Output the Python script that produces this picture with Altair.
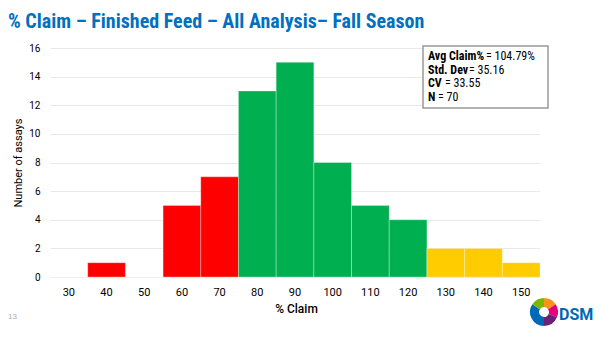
import altair as alt
import pandas as pd

# ---- data ----
bins = [30, 40, 50, 60, 70, 80, 90, 100, 110, 120, 130, 140, 150]
counts = [0, 1, 0, 5, 7, 13, 15, 8, 5, 4, 2, 2, 1]
zones = ["low"] * 5 + ["ok"] * 5 + ["high"] * 3
stat_labels = ["Avg Claim%", "Std. Dev", "CV", "N"]
stat_values = ["= 104.79%", "= 35.16", "= 33.55", "= 70"]
title_text = "% Claim – Finished Feed – All Analysis– Fall Season"

df = pd.DataFrame({"bin": bins, "count": counts, "zone": zones})

# ---- styles ----
W, H = 490, 229
NARROW = "Liberation Sans Narrow, Roboto Condensed, Roboto"
value_dx = [58, 41, 17, 10]
stats = pd.DataFrame({
    "label": stat_labels,
    "value": stat_values,
    "line": list(range(len(stat_labels))),
    "dx": value_dx,
})
one = pd.DataFrame({"a": [0]})
line_y = alt.Y("line:Q", scale=alt.Scale(domain=[0, 3], range=[12, 53]), axis=None)

bars = alt.Chart(df).mark_bar(stroke="#ffffff", strokeOpacity=0.5, strokeWidth=0.6).encode(
    x=alt.X("bin:O", sort=bins,
            scale=alt.Scale(paddingInner=0, paddingOuter=0),
            axis=alt.Axis(title="% Claim", labelAngle=0, ticks=False, domain=False,
                          labelFontSize=11, labelPadding=9, labelColor="#000",
                          titleFontSize=12, titleFontWeight=500, titlePadding=6,
                          titleColor="#000", titleX=246)),
    y=alt.Y("count:Q", scale=alt.Scale(domain=[0, 16], nice=False),
            axis=alt.Axis(title="Number of assays", values=list(range(0, 17, 2)),
                          ticks=False, domain=False, gridColor="#e8e8e8",
                          labelFontSize=10, labelPadding=10, labelColor="#000",
                          titleFontSize=11, titleFontWeight="normal", titlePadding=5,
                          titleColor="#000")),
    color=alt.Color("zone:N", legend=None,
                    scale=alt.Scale(domain=["low", "ok", "high"],
                                    range=["#ff0000", "#00b050", "#ffcc00"])),
)

box = alt.Chart(one).mark_rect(fill="white", stroke="#999999", strokeWidth=1.5).encode(
    x=alt.value(373), x2=alt.value(498), y=alt.value(-2), y2=alt.value(60)
)

lab = alt.Chart(stats).mark_text(align="left", baseline="alphabetic", fontSize=12,
                                 fontWeight="bold", font=NARROW, color="#000").encode(
    x=alt.value(378), y=line_y, text="label:N",
)
val = alt.Chart(stats).transform_calculate(xx="378 + datum.dx").mark_text(
    align="left", baseline="alphabetic", fontSize=12, font=NARROW, color="#000").encode(
    x=alt.X("xx:Q", scale=None), y=line_y, text="value:N",
)

title = alt.Chart(one).mark_text(align="left", baseline="alphabetic", fontSize=20,
                                 fontWeight="bold", color="#0070c0", font=NARROW).encode(
    x=alt.value(-42), y=alt.value(-20), text=alt.value(title_text)
)

page = alt.Chart(one).mark_text(align="left", fontSize=8, color="#aaaaaa").encode(
    x=alt.value(-42), y=alt.value(269), text=alt.value("13")
)

logo_df = pd.DataFrame({"part": ["a", "b", "c", "d", "e"],
                        "v": [1, 1, 1.2, 2.2, 1]})
logo = alt.Chart(logo_df).mark_arc(innerRadius=5, outerRadius=14).encode(
    theta=alt.Theta("v:Q", stack=True),
    color=alt.Color("part:N", legend=None,
                    scale=alt.Scale(domain=["a", "b", "c", "d", "e"],
                                    range=["#f7941d", "#e5007e", "#6d2077", "#0069b4", "#7ab800"])),
    x=alt.value(494), y=alt.value(264),
)
logo_txt = alt.Chart(one).mark_text(align="left", baseline="alphabetic", fontSize=16,
                                    fontWeight="bold", color="#0069b4", font="Roboto").encode(
    x=alt.value(509), y=alt.value(272), text=alt.value("DSM")
)

chart = alt.layer(bars, box, lab, val, title, page, logo, logo_txt).resolve_scale(
    color="independent", y="independent"
).properties(
    width=W, height=H,
    autosize=alt.AutoSizeParams(type="none"),
    padding={"left": 50, "top": 48, "right": 60, "bottom": 61},
).configure_view(stroke=None).configure_axis(labelFont="Roboto", titleFont="Roboto")

chart.save("out.html", embed_options={"renderer": "svg", "actions": False})
